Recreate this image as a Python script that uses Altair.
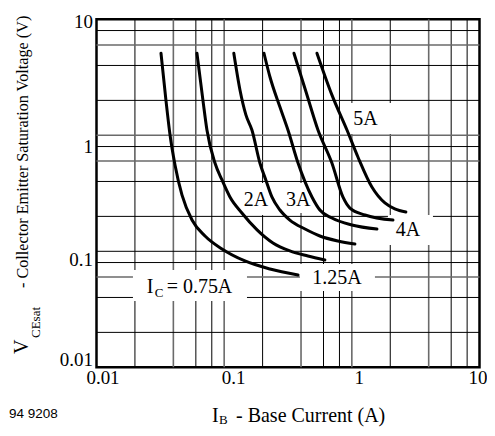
import altair as alt
import pandas as pd

# ---- data (IB in A, VCEsat in V) ----
ic_names = ["0.75A", "1.25A", "2A", "3A", "4A", "5A"]

ib_075 = [0.032, 0.035, 0.0377, 0.0412, 0.0467, 0.056, 0.0708, 0.0962, 0.1455, 0.2285, 0.379]
vce_075 = [5.1, 2.0, 1.0, 0.555, 0.306, 0.186, 0.1355, 0.1047, 0.0825, 0.0704, 0.0625]

ib_125 = [0.0612, 0.0682, 0.0733, 0.0847, 0.0962, 0.111, 0.1377, 0.181, 0.241, 0.327, 0.453, 0.615]
vce_125 = [5.1, 2.0, 1.11, 0.577, 0.412, 0.294, 0.214, 0.153, 0.118, 0.1007, 0.091, 0.0841]

ib_2 = [0.119, 0.133, 0.148, 0.165, 0.1905, 0.212, 0.2365, 0.2735, 0.327, 0.430, 0.562, 0.778, 1.057]
vce_2 = [5.1, 2.46, 1.50, 1.11, 0.577, 0.412, 0.294, 0.227, 0.186, 0.1556, 0.1355, 0.1227, 0.1156]

ib_3 = [0.205, 0.2285, 0.2735, 0.316, 0.379, 0.487, 0.562, 0.698, 1.0, 1.573]
vce_3 = [5.1, 3.18, 1.75, 1.11, 0.577, 0.294, 0.227, 0.1936, 0.1686, 0.1556]

ib_4 = [0.352, 0.438, 0.543, 0.698, 0.851, 0.966, 1.267, 2.10]
vce_4 = [5.1, 2.36, 1.11, 0.577, 0.294, 0.236, 0.2056, 0.186]

ib_5 = [0.533, 0.698, 0.916, 1.116, 1.436, 1.816, 2.17, 2.65]
vce_5 = [5.1, 2.23, 1.11, 0.650, 0.358, 0.261, 0.232, 0.218]

# axis ticks
tick_values = [0.01, 0.1, 1, 10]

# grid lines
x_grid_dark = [0.02, 0.06, 0.08, 0.2, 0.6, 0.8, 2, 6, 8]
x_grid_gray = [0.04, 0.1, 0.4, 1, 4]
y_grid_dark = [0.02, 0.04, 0.08, 0.1, 0.2, 0.4, 0.8, 2, 4, 8]
y_grid_gray = [0.06, 0.6, 1, 6]

# curve labels (text anchor in data coordinates)
lab_text = ["2A", "3A", "4A", "5A", "1.25A"]
lab_x = [0.1774, 0.380, 2.75, 1.278, 0.764]
lab_y = [0.2472, 0.248, 0.1355, 1.227, 0.0520]
ic075_x = [0.0247]
ic075_y = [0.0435]

# white boxes behind labels (data coordinates)
box_x1 = [0.1402, 0.299, 1.918, 0.883, 0.3924, 0.0193]
box_x2 = [0.2285, 0.487, 4.32, 2.06, 1.517, 0.1509]
box_y1 = [0.388, 0.388, 0.2056, 1.898, 0.0778, 0.0690]
box_y2 = [0.2056, 0.2138, 0.1133, 1.026, 0.0455, 0.0373]

# ---- build tables ----
frames = []
for name, xs_, ys_ in zip(ic_names, [ib_075, ib_125, ib_2, ib_3, ib_4, ib_5],
                          [vce_075, vce_125, vce_2, vce_3, vce_4, vce_5]):
    frames.append(pd.DataFrame({"ib": xs_, "vce": ys_, "ic": name}))
curves = pd.concat(frames, ignore_index=True)

FONT = "Liberation Serif"
X0, Y0 = 96.5, 19.3  # page position of plot origin
W, H = 383, 348

xs = alt.Scale(type="log", domain=[0.01, 10], nice=False)
ys = alt.Scale(type="log", domain=[0.01, 10], nice=False)

xaxis = alt.Axis(values=tick_values, format="~g", grid=False, ticks=False, tickSize=0, domain=False,
                 labelFont=FONT, labelFontSize=19, labelColor="black", labelPadding=1,
                 labelOffset={"condition": [{"test": "datum.value == 0.01", "value": 6},
                                            {"test": "datum.value == 0.1", "value": 9},
                                            {"test": "datum.value == 1", "value": 7}],
                              "value": -2},
                 labelOverlap=False, labelBound=False, labelFlush=False, title=None)
yaxis = alt.Axis(values=tick_values, format="~g", grid=False, ticks=False, tickSize=0, domain=False,
                 labelFont=FONT, labelFontSize=19, labelColor="black", labelPadding=4,
                 labelOffset={"condition": [{"test": "datum.value == 1", "value": 11},
                                            {"test": "datum.value == 0.1", "value": 8},
                                            {"test": "datum.value == 0.01", "value": -8}],
                              "value": 2},
                 labelOverlap=False, labelBound=False, labelFlush=False, title=None)

XE = alt.X("ib:Q", scale=xs, axis=xaxis)
YE = alt.Y("vce:Q", scale=ys, axis=yaxis)

vx_dark = alt.Chart(pd.DataFrame({"ib": x_grid_dark})).mark_rule(color="black", strokeWidth=1).encode(x=XE)
vx_gray = alt.Chart(pd.DataFrame({"ib": x_grid_gray})).mark_rule(color="#6a6a6a", strokeWidth=1.6).encode(x=XE)
hy_dark = alt.Chart(pd.DataFrame({"vce": y_grid_dark})).mark_rule(color="black", strokeWidth=1).encode(y=YE)
hy_gray = alt.Chart(pd.DataFrame({"vce": y_grid_gray})).mark_rule(color="#6a6a6a", strokeWidth=1.6).encode(y=YE)

boxes = alt.Chart(pd.DataFrame({"ib": box_x1, "ib2": box_x2, "vce": box_y1, "vce2": box_y2})).mark_rect(
    color="white").encode(x=XE, x2="ib2:Q", y=YE, y2="vce2:Q")

lines = alt.Chart(curves).mark_line(color="black", strokeWidth=3, interpolate="monotone",
                                    strokeCap="round").encode(x=XE, y=YE, detail="ic:N")

labels = alt.Chart(pd.DataFrame({"ib": lab_x, "vce": lab_y, "t": lab_text})).mark_text(
    font=FONT, fontSize=20, align="center", baseline="alphabetic", color="black").encode(
    x=XE, y=YE, text="t:N")

ic_df = pd.DataFrame({"ib": ic075_x, "vce": ic075_y})
def ic_part(txt, size, dx, dy):
    return alt.Chart(ic_df).mark_text(text=txt, font=FONT, fontSize=size, align="left",
                                      baseline="alphabetic", color="black", dx=dx, dy=dy).encode(x=XE, y=YE)
ic_label = ic_part("I", 20, 0, 0) + ic_part("C", 13, 8, 4) + ic_part("= 0.75A", 20, 20, 0)

one = pd.DataFrame({"a": [0]})
def ptext(txt, px, py, size, angle=0, font=FONT):
    return alt.Chart(one).mark_text(text=txt, font=font, fontSize=size, align="left",
                                    baseline="alphabetic", angle=angle, color="black").encode(
        x=alt.value(px - X0), y=alt.value(py - Y0))

xtitle = (ptext("I", 212, 422, 20) + ptext("B", 219, 424.5, 13)
          + ptext("- Base Current (A)", 236, 422, 20))
ytitle = (ptext("V", 28, 354, 20, 270) + ptext("CEsat", 40, 338, 13, 270)
          + ptext("- Collector Emitter Saturation Voltage (V)", 28, 288, 16.2, 270))
code = ptext("94 9208", 9, 418, 13.5, font="Liberation Sans")

chart = alt.layer(vx_dark, vx_gray, hy_dark, hy_gray, boxes, lines, labels, ic_label,
                  xtitle, ytitle, code).properties(
    width=W, height=H,
    autosize=alt.AutoSizeParams(type="none"),
    padding={"left": X0 - 8, "top": Y0 - 8, "right": 7, "bottom": 60.5},
).configure_view(stroke="black", strokeWidth=2.5)

chart.save("out.html", embed_options={"renderer": "svg", "actions": False})
